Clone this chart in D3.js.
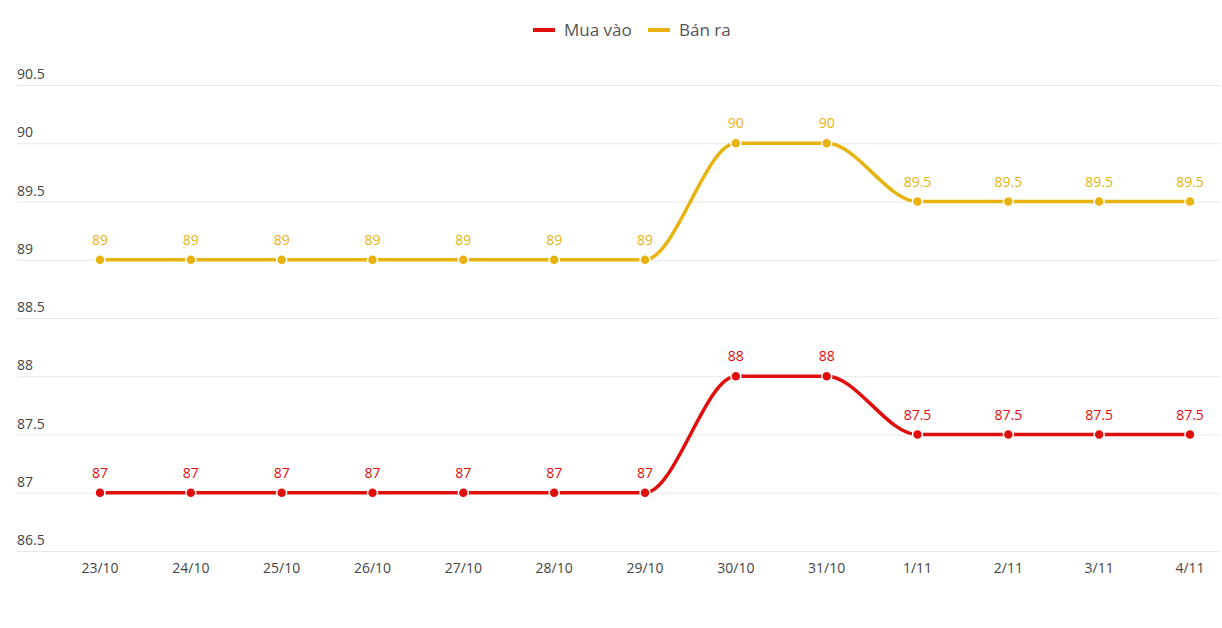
<!DOCTYPE html>
<html>
<head>
<meta charset="utf-8">
<script src="https://cdn.jsdelivr.net/npm/d3@7"></script>
<style>
  body { margin: 0; background: #fff; }
  text { font-family: "Open Sans", "Noto Sans", sans-serif; }
</style>
</head>
<body>
<div id="chart-area"></div>
<script>
const days = ["23/10", "24/10", "25/10", "26/10", "27/10", "28/10", "29/10", "30/10", "31/10", "1/11", "2/11", "3/11", "4/11"];
const buyValues = [87, 87, 87, 87, 87, 87, 87, 88, 88, 87.5, 87.5, 87.5, 87.5];
const sellValues = [89, 89, 89, 89, 89, 89, 89, 90, 90, 89.5, 89.5, 89.5, 89.5];
const yTicks = [86.5, 87, 87.5, 88, 88.5, 89, 89.5, 90, 90.5];
const seriesNames = ["Mua vào", "Bán ra"];
const colors = ["#e00d0d", "#e8b20f"];

let width = 1222, height = 628;

let svg = d3.select("#chart-area")
    .append("svg")
        .attr("width", width)
        .attr("height", height);

let x = d3.scalePoint()
    .domain(days)
    .range([100, 1190]);

let y = d3.scaleLinear()
    .domain([86.5, 90.5])
    .range([551, 85]);

// grid + y labels
let yAxis = svg.append("g");
yAxis.selectAll("line")
    .data(yTicks)
    .enter().append("line")
        .attr("x1", 17)
        .attr("x2", 1220)
        .attr("y1", d => y(d) + 0.5)
        .attr("y2", d => y(d) + 0.5)
        .attr("stroke", "#e8e8e8")
        .attr("stroke-width", 1);
yAxis.selectAll("text")
    .data(yTicks)
    .enter().append("text")
        .attr("x", 17)
        .attr("y", d => y(d) - 6)
        .attr("font-size", "14px")
        .attr("fill", "#444")
        .text(d => d);

// x labels
svg.append("g")
    .selectAll("text")
    .data(days)
    .enter().append("text")
        .attr("x", d => x(d))
        .attr("y", 573)
        .attr("text-anchor", "middle")
        .attr("font-size", "14px")
        .attr("fill", "#444")
        .text(d => d);

let series = [buyValues, sellValues];
let line = d3.line()
    .x((d, i) => x(days[i]))
    .y(d => y(d))
    .curve(d3.curveMonotoneX);

series.forEach(function(values, s) {
    let g = svg.append("g");
    g.append("path")
        .datum(values)
        .attr("d", line)
        .attr("fill", "none")
        .attr("stroke", colors[s])
        .attr("stroke-width", 3.5);
    g.selectAll("circle")
        .data(values)
        .enter().append("circle")
            .attr("cx", (d, i) => x(days[i]))
            .attr("cy", d => y(d))
            .attr("r", 5)
            .attr("fill", colors[s])
            .attr("stroke", "#fff")
            .attr("stroke-width", 1.5);
    g.selectAll("text")
        .data(values)
        .enter().append("text")
            .attr("x", (d, i) => x(days[i]))
            .attr("y", d => y(d) - 15)
            .attr("text-anchor", "middle")
            .attr("font-size", "14px")
            .attr("font-weight", 500)
            .attr("fill", colors[s])
            .text(d => d);
});

// legend
let legendX = [533, 648];
seriesNames.forEach(function(name, s) {
    svg.append("rect")
        .attr("x", legendX[s])
        .attr("y", 28)
        .attr("width", 22)
        .attr("height", 4)
        .attr("fill", colors[s]);
    svg.append("text")
        .attr("x", legendX[s] + 31)
        .attr("y", 36)
        .attr("font-size", "17px")
        .attr("fill", "#555")
        .text(name);
});
</script>
</body>
</html>
